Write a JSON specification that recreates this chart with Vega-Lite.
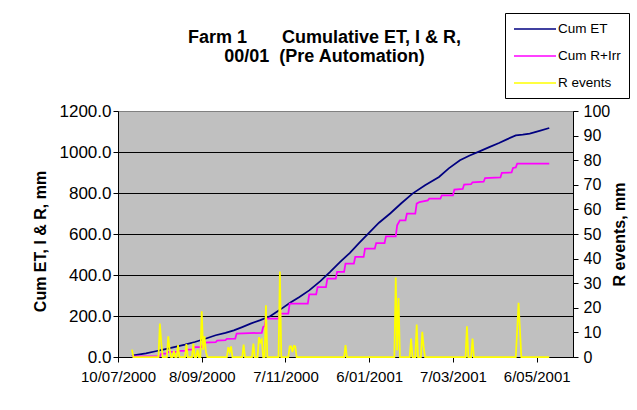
{
  "$schema": "https://vega.github.io/schema/vega-lite/v6.json",
  "width": 455,
  "height": 246,
  "autosize": "none",
  "padding": {"left": 118, "top": 111, "right": 64, "bottom": 53},
  "background": "white",
  "title": {
    "text": ["Farm 1\u00a0\u00a0\u00a0\u00a0\u00a0\u00a0\u00a0Cumulative ET, I & R,", "00/01\u00a0\u00a0(Pre Automation)"],
    "fontSize": 18,
    "fontWeight": "bold",
    "color": "black",
    "anchor": "middle",
    "lineHeight": 19,
    "offset": -53,
    "dx": -21
  },
  "data": {
    "values": [
      {"date": "2000/07/20", "series": "Cum ET", "value": 5},
      {"date": "2000/07/21", "series": "Cum ET", "value": 8},
      {"date": "2000/07/30", "series": "Cum ET", "value": 18},
      {"date": "2000/08/06", "series": "Cum ET", "value": 28},
      {"date": "2000/08/13", "series": "Cum ET", "value": 38},
      {"date": "2000/08/20", "series": "Cum ET", "value": 49},
      {"date": "2000/08/27", "series": "Cum ET", "value": 60},
      {"date": "2000/09/03", "series": "Cum ET", "value": 73},
      {"date": "2000/09/10", "series": "Cum ET", "value": 88},
      {"date": "2000/09/18", "series": "Cum ET", "value": 106},
      {"date": "2000/09/25", "series": "Cum ET", "value": 118},
      {"date": "2000/10/01", "series": "Cum ET", "value": 130},
      {"date": "2000/10/07", "series": "Cum ET", "value": 146},
      {"date": "2000/10/13", "series": "Cum ET", "value": 163},
      {"date": "2000/10/20", "series": "Cum ET", "value": 180},
      {"date": "2000/10/27", "series": "Cum ET", "value": 199},
      {"date": "2000/11/03", "series": "Cum ET", "value": 230},
      {"date": "2000/11/10", "series": "Cum ET", "value": 263},
      {"date": "2000/11/17", "series": "Cum ET", "value": 293},
      {"date": "2000/11/24", "series": "Cum ET", "value": 325},
      {"date": "2000/12/02", "series": "Cum ET", "value": 370},
      {"date": "2000/12/09", "series": "Cum ET", "value": 415},
      {"date": "2000/12/16", "series": "Cum ET", "value": 463},
      {"date": "2000/12/23", "series": "Cum ET", "value": 507},
      {"date": "2000/12/30", "series": "Cum ET", "value": 558},
      {"date": "2001/01/06", "series": "Cum ET", "value": 607},
      {"date": "2001/01/13", "series": "Cum ET", "value": 655},
      {"date": "2001/01/21", "series": "Cum ET", "value": 700},
      {"date": "2001/01/29", "series": "Cum ET", "value": 750},
      {"date": "2001/02/06", "series": "Cum ET", "value": 797},
      {"date": "2001/02/15", "series": "Cum ET", "value": 838},
      {"date": "2001/02/25", "series": "Cum ET", "value": 878},
      {"date": "2001/03/04", "series": "Cum ET", "value": 920},
      {"date": "2001/03/12", "series": "Cum ET", "value": 960},
      {"date": "2001/03/19", "series": "Cum ET", "value": 983},
      {"date": "2001/03/26", "series": "Cum ET", "value": 1003},
      {"date": "2001/04/02", "series": "Cum ET", "value": 1024},
      {"date": "2001/04/09", "series": "Cum ET", "value": 1044},
      {"date": "2001/04/15", "series": "Cum ET", "value": 1063},
      {"date": "2001/04/21", "series": "Cum ET", "value": 1081},
      {"date": "2001/04/26", "series": "Cum ET", "value": 1085},
      {"date": "2001/05/01", "series": "Cum ET", "value": 1090},
      {"date": "2001/05/08", "series": "Cum ET", "value": 1103},
      {"date": "2001/05/15", "series": "Cum ET", "value": 1117},

      {"date": "2000/07/20", "series": "Cum R+Irr", "value": 3},
      {"date": "2000/08/09", "series": "Cum R+Irr", "value": 3},
      {"date": "2000/08/10", "series": "Cum R+Irr", "value": 17},
      {"date": "2000/08/14", "series": "Cum R+Irr", "value": 17},
      {"date": "2000/08/15", "series": "Cum R+Irr", "value": 25},
      {"date": "2000/08/22", "series": "Cum R+Irr", "value": 25},
      {"date": "2000/08/23", "series": "Cum R+Irr", "value": 30},
      {"date": "2000/08/28", "series": "Cum R+Irr", "value": 30},
      {"date": "2000/08/29", "series": "Cum R+Irr", "value": 36},
      {"date": "2000/09/02", "series": "Cum R+Irr", "value": 36},
      {"date": "2000/09/03", "series": "Cum R+Irr", "value": 48},
      {"date": "2000/09/08", "series": "Cum R+Irr", "value": 48},
      {"date": "2000/09/09", "series": "Cum R+Irr", "value": 66},
      {"date": "2000/09/10", "series": "Cum R+Irr", "value": 70},
      {"date": "2000/09/18", "series": "Cum R+Irr", "value": 72},
      {"date": "2000/09/19", "series": "Cum R+Irr", "value": 80},
      {"date": "2000/09/25", "series": "Cum R+Irr", "value": 82},
      {"date": "2000/09/26", "series": "Cum R+Irr", "value": 88},
      {"date": "2000/10/02", "series": "Cum R+Irr", "value": 90},
      {"date": "2000/10/03", "series": "Cum R+Irr", "value": 114},
      {"date": "2000/10/21", "series": "Cum R+Irr", "value": 118},
      {"date": "2000/10/22", "series": "Cum R+Irr", "value": 146},
      {"date": "2000/10/23", "series": "Cum R+Irr", "value": 150},
      {"date": "2000/10/24", "series": "Cum R+Irr", "value": 187},
      {"date": "2000/11/02", "series": "Cum R+Irr", "value": 187},
      {"date": "2000/11/03", "series": "Cum R+Irr", "value": 212},
      {"date": "2000/11/09", "series": "Cum R+Irr", "value": 212},
      {"date": "2000/11/10", "series": "Cum R+Irr", "value": 260},
      {"date": "2000/11/23", "series": "Cum R+Irr", "value": 260},
      {"date": "2000/11/24", "series": "Cum R+Irr", "value": 306},
      {"date": "2000/11/29", "series": "Cum R+Irr", "value": 306},
      {"date": "2000/11/30", "series": "Cum R+Irr", "value": 341},
      {"date": "2000/12/06", "series": "Cum R+Irr", "value": 341},
      {"date": "2000/12/07", "series": "Cum R+Irr", "value": 382},
      {"date": "2000/12/13", "series": "Cum R+Irr", "value": 382},
      {"date": "2000/12/14", "series": "Cum R+Irr", "value": 415},
      {"date": "2000/12/19", "series": "Cum R+Irr", "value": 415},
      {"date": "2000/12/20", "series": "Cum R+Irr", "value": 456},
      {"date": "2000/12/26", "series": "Cum R+Irr", "value": 456},
      {"date": "2000/12/27", "series": "Cum R+Irr", "value": 488},
      {"date": "2001/01/02", "series": "Cum R+Irr", "value": 488},
      {"date": "2001/01/03", "series": "Cum R+Irr", "value": 529},
      {"date": "2001/01/10", "series": "Cum R+Irr", "value": 529},
      {"date": "2001/01/11", "series": "Cum R+Irr", "value": 556},
      {"date": "2001/01/17", "series": "Cum R+Irr", "value": 556},
      {"date": "2001/01/18", "series": "Cum R+Irr", "value": 589},
      {"date": "2001/01/25", "series": "Cum R+Irr", "value": 589},
      {"date": "2001/01/26", "series": "Cum R+Irr", "value": 642},
      {"date": "2001/01/28", "series": "Cum R+Irr", "value": 667},
      {"date": "2001/02/01", "series": "Cum R+Irr", "value": 667},
      {"date": "2001/02/02", "series": "Cum R+Irr", "value": 700},
      {"date": "2001/02/08", "series": "Cum R+Irr", "value": 700},
      {"date": "2001/02/09", "series": "Cum R+Irr", "value": 748},
      {"date": "2001/02/11", "series": "Cum R+Irr", "value": 756},
      {"date": "2001/02/17", "series": "Cum R+Irr", "value": 764},
      {"date": "2001/02/18", "series": "Cum R+Irr", "value": 773},
      {"date": "2001/02/26", "series": "Cum R+Irr", "value": 773},
      {"date": "2001/02/27", "series": "Cum R+Irr", "value": 789},
      {"date": "2001/03/07", "series": "Cum R+Irr", "value": 789},
      {"date": "2001/03/08", "series": "Cum R+Irr", "value": 817},
      {"date": "2001/03/14", "series": "Cum R+Irr", "value": 820},
      {"date": "2001/03/15", "series": "Cum R+Irr", "value": 841},
      {"date": "2001/03/20", "series": "Cum R+Irr", "value": 843},
      {"date": "2001/03/21", "series": "Cum R+Irr", "value": 852},
      {"date": "2001/03/29", "series": "Cum R+Irr", "value": 855},
      {"date": "2001/03/30", "series": "Cum R+Irr", "value": 873},
      {"date": "2001/04/10", "series": "Cum R+Irr", "value": 876},
      {"date": "2001/04/11", "series": "Cum R+Irr", "value": 898},
      {"date": "2001/04/18", "series": "Cum R+Irr", "value": 900},
      {"date": "2001/04/19", "series": "Cum R+Irr", "value": 922},
      {"date": "2001/04/21", "series": "Cum R+Irr", "value": 925},
      {"date": "2001/04/22", "series": "Cum R+Irr", "value": 943},
      {"date": "2001/05/15", "series": "Cum R+Irr", "value": 943},

      {"date": "2000/07/20", "series": "R events", "value": 3},
      {"date": "2000/07/21", "series": "R events", "value": 0},
      {"date": "2000/08/08", "series": "R events", "value": 0},
      {"date": "2000/08/09", "series": "R events", "value": 13.6},
      {"date": "2000/08/10", "series": "R events", "value": 6},
      {"date": "2000/08/11", "series": "R events", "value": 0},
      {"date": "2000/08/14", "series": "R events", "value": 0},
      {"date": "2000/08/15", "series": "R events", "value": 8.4},
      {"date": "2000/08/16", "series": "R events", "value": 3},
      {"date": "2000/08/17", "series": "R events", "value": 0},
      {"date": "2000/08/18", "series": "R events", "value": 0},
      {"date": "2000/08/19", "series": "R events", "value": 2.5},
      {"date": "2000/08/20", "series": "R events", "value": 0},
      {"date": "2000/08/21", "series": "R events", "value": 0},
      {"date": "2000/08/22", "series": "R events", "value": 4.8},
      {"date": "2000/08/23", "series": "R events", "value": 0},
      {"date": "2000/08/27", "series": "R events", "value": 0},
      {"date": "2000/08/28", "series": "R events", "value": 5.2},
      {"date": "2000/08/29", "series": "R events", "value": 0},
      {"date": "2000/09/01", "series": "R events", "value": 0},
      {"date": "2000/09/02", "series": "R events", "value": 5.4},
      {"date": "2000/09/03", "series": "R events", "value": 0},
      {"date": "2000/09/04", "series": "R events", "value": 0},
      {"date": "2000/09/05", "series": "R events", "value": 3},
      {"date": "2000/09/06", "series": "R events", "value": 0},
      {"date": "2000/09/07", "series": "R events", "value": 0},
      {"date": "2000/09/08", "series": "R events", "value": 18.6},
      {"date": "2000/09/09", "series": "R events", "value": 3},
      {"date": "2000/09/10", "series": "R events", "value": 8.4},
      {"date": "2000/09/11", "series": "R events", "value": 2},
      {"date": "2000/09/12", "series": "R events", "value": 0},
      {"date": "2000/09/26", "series": "R events", "value": 0},
      {"date": "2000/09/27", "series": "R events", "value": 4},
      {"date": "2000/09/28", "series": "R events", "value": 2},
      {"date": "2000/09/29", "series": "R events", "value": 4.3},
      {"date": "2000/09/30", "series": "R events", "value": 0},
      {"date": "2000/10/07", "series": "R events", "value": 0},
      {"date": "2000/10/08", "series": "R events", "value": 5},
      {"date": "2000/10/09", "series": "R events", "value": 0},
      {"date": "2000/10/14", "series": "R events", "value": 0},
      {"date": "2000/10/15", "series": "R events", "value": 5.4},
      {"date": "2000/10/16", "series": "R events", "value": 0},
      {"date": "2000/10/18", "series": "R events", "value": 0},
      {"date": "2000/10/19", "series": "R events", "value": 8},
      {"date": "2000/10/20", "series": "R events", "value": 6},
      {"date": "2000/10/21", "series": "R events", "value": 7},
      {"date": "2000/10/22", "series": "R events", "value": 0},
      {"date": "2000/10/23", "series": "R events", "value": 0},
      {"date": "2000/10/24", "series": "R events", "value": 21},
      {"date": "2000/10/25", "series": "R events", "value": 0},
      {"date": "2000/11/02", "series": "R events", "value": 0},
      {"date": "2000/11/03", "series": "R events", "value": 34.7},
      {"date": "2000/11/04", "series": "R events", "value": 0},
      {"date": "2000/11/09", "series": "R events", "value": 0},
      {"date": "2000/11/10", "series": "R events", "value": 4.3},
      {"date": "2000/11/11", "series": "R events", "value": 4.3},
      {"date": "2000/11/12", "series": "R events", "value": 2},
      {"date": "2000/11/13", "series": "R events", "value": 4.5},
      {"date": "2000/11/14", "series": "R events", "value": 4.3},
      {"date": "2000/11/15", "series": "R events", "value": 0},
      {"date": "2000/12/19", "series": "R events", "value": 0},
      {"date": "2000/12/20", "series": "R events", "value": 4.8},
      {"date": "2000/12/21", "series": "R events", "value": 0},
      {"date": "2001/01/24", "series": "R events", "value": 0},
      {"date": "2001/01/25", "series": "R events", "value": 32.3},
      {"date": "2001/01/26", "series": "R events", "value": 2.7},
      {"date": "2001/01/27", "series": "R events", "value": 24},
      {"date": "2001/01/28", "series": "R events", "value": 0},
      {"date": "2001/02/04", "series": "R events", "value": 0},
      {"date": "2001/02/05", "series": "R events", "value": 7.5},
      {"date": "2001/02/06", "series": "R events", "value": 0},
      {"date": "2001/02/08", "series": "R events", "value": 0},
      {"date": "2001/02/09", "series": "R events", "value": 13.2},
      {"date": "2001/02/10", "series": "R events", "value": 0},
      {"date": "2001/02/12", "series": "R events", "value": 0},
      {"date": "2001/02/13", "series": "R events", "value": 10.2},
      {"date": "2001/02/14", "series": "R events", "value": 4},
      {"date": "2001/02/15", "series": "R events", "value": 0},
      {"date": "2001/03/16", "series": "R events", "value": 0},
      {"date": "2001/03/17", "series": "R events", "value": 12.5},
      {"date": "2001/03/18", "series": "R events", "value": 0},
      {"date": "2001/03/20", "series": "R events", "value": 0},
      {"date": "2001/03/21", "series": "R events", "value": 7.5},
      {"date": "2001/03/22", "series": "R events", "value": 0},
      {"date": "2001/04/21", "series": "R events", "value": 0},
      {"date": "2001/04/23", "series": "R events", "value": 22},
      {"date": "2001/04/25", "series": "R events", "value": 0},
      {"date": "2001/05/15", "series": "R events", "value": 0}
    ]
  },
  "encoding": {
    "x": {
      "field": "date",
      "type": "temporal",
      "scale": {"domain": [{"year": 2000, "month": 7, "date": 10}, {"year": 2001, "month": 6, "date": 1}]},
      "axis": {
        "title": null,
        "values": [
          {"year": 2000, "month": 7, "date": 10},
          {"year": 2000, "month": 9, "date": 8},
          {"year": 2000, "month": 11, "date": 7},
          {"year": 2001, "month": 1, "date": 6},
          {"year": 2001, "month": 3, "date": 7},
          {"year": 2001, "month": 5, "date": 6}
        ],
        "format": "%-d/%m/%Y",
        "grid": false,
        "tickSize": 5,
        "labelPadding": 7,
        "labelFontSize": 15,
        "labelFlush": false,
        "labelOverlap": false
      }
    },
    "color": {
      "field": "series",
      "type": "nominal",
      "scale": {"domain": ["Cum ET", "Cum R+Irr", "R events"], "range": ["#000080", "#FF00FF", "#FFFF00"]},
      "legend": {
        "orient": "none",
        "legendX": 387,
        "legendY": -98,
        "title": null,
        "strokeColor": "black",
        "fillColor": "white",
        "padding": 8,
        "symbolType": "M-1,0H5",
        "symbolSize": 196,
        "symbolStrokeWidth": 1.5,
        "labelFontSize": 13.5,
        "labelOffset": 29,
        "rowPadding": 12,
        "labelColor": "black"
      }
    }
  },
  "layer": [
    {
      "transform": [{"filter": "datum.series !== 'R events'"}],
      "mark": {"type": "line", "strokeWidth": 1.75},
      "encoding": {
        "y": {
          "field": "value",
          "type": "quantitative",
          "scale": {"domain": [0, 1200]},
          "axis": {
            "orient": "left",
            "title": "Cum ET, I & R, mm",
            "titleY": 130,
            "titleX": -70,
            "titleBaseline": "bottom",
            "values": [0, 200, 400, 600, 800, 1000, 1200],
            "format": ".1f",
            "grid": true,
            "gridColor": {"condition": {"test": "datum.value === 1200", "value": "#808080"}, "value": "black"},
            "gridWidth": 1,
            "tickSize": 5,
            "labelPadding": 2,
            "labelFontSize": 17,
            "labelFlush": false,
            "titleFontSize": 16,
            "titleFontWeight": "bold"
          }
        }
      }
    },
    {
      "transform": [{"filter": "datum.series === 'R events'"}],
      "mark": {"type": "line", "strokeWidth": 1.75},
      "encoding": {
        "y": {
          "field": "value",
          "type": "quantitative",
          "scale": {"domain": [0, 100]},
          "axis": {
            "orient": "right",
            "title": "R events, mm",
            "titleAngle": 270,
            "titleBaseline": "top",
            "values": [0, 10, 20, 30, 40, 50, 60, 70, 80, 90, 100],
            "format": "d",
            "grid": false,
            "tickSize": 5,
            "labelPadding": 5,
            "labelFontSize": 16,
            "labelFlush": false,
            "titleFontSize": 16,
            "titleFontWeight": "bold",
            "titlePadding": 2
          }
        }
      }
    }
  ],
  "resolve": {"scale": {"y": "independent"}},
  "config": {
    "font": "Liberation Sans",
    "view": {"fill": "#C0C0C0", "stroke": "#808080"},
    "axis": {"labelColor": "black", "titleColor": "black", "domainColor": "black", "tickColor": "black", "zindex": 0}
  }
}
